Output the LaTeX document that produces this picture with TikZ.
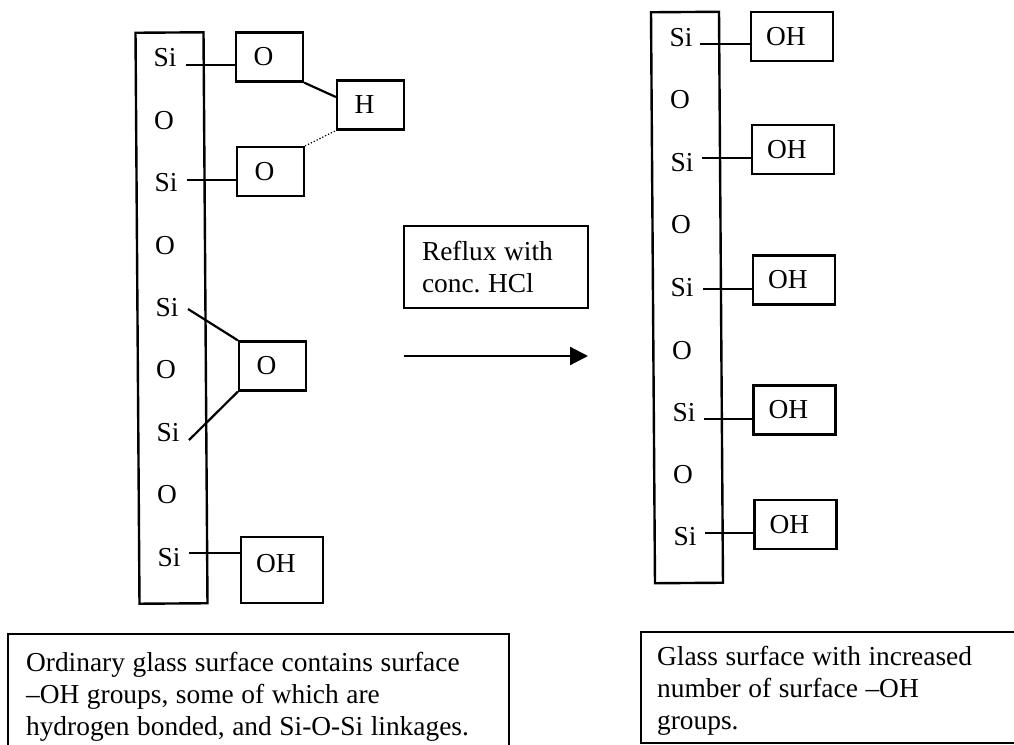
\documentclass[tikz,border=0pt]{standalone}
\usepackage{fontspec}
\setmainfont{Liberation Serif}
\usetikzlibrary{arrows.meta,positioning,calc}

\newcommand{\tightspace}{\spaceskip=3.8pt\relax}

\tikzset{
  chemtext/.style={font=\fontsize{13.7}{16}\selectfont, inner sep=0pt},
  barbox/.style={draw, line width=1.2pt, minimum width=34pt, minimum height=285.5pt, rotate=0.4},
  grpbox/.style={draw, line width=1.1pt, chemtext, minimum width=33.5pt, minimum height=24.5pt, execute at end node={\kern6pt}},
  ohbox/.style={grpbox, minimum width=41pt},
  notebox/.style={draw, line width=1.1pt, chemtext, align=left, execute at begin node={\tightspace}},
  bond/.style={line width=1.1pt}
}

\begin{document}
\begin{tikzpicture}[x=0.5pt, y=-0.5pt]
    \clip (0,0) rectangle (1014,745);

    % Left glass surface
    \node[barbox] (leftbar) at (171.5,318) {};
    \node[chemtext] (ls1) at (165,58) {Si};
    \node[chemtext] (lo1) at (164,121) {O};
    \node[chemtext] (ls2) at (166,183) {Si};
    \node[chemtext] (lo2) at (165,246) {O};
    \node[chemtext] (ls3) at (167,308) {Si};
    \node[chemtext] (lo3) at (166,370) {O};
    \node[chemtext] (ls4) at (168,433) {Si};
    \node[chemtext] (lo4) at (167,495) {O};
    \node[chemtext] (ls5) at (169,558) {Si};

    % Groups on the left surface
    \node[grpbox] (oa) at (269.5,57) {O};
    \node[grpbox] (hb) at (370.5,105) {H};
    \node[grpbox] (ob) at (270.5,171.5) {O};
    \node[grpbox] (oc) at (272.5,366) {O};
    \node[ohbox, minimum height=33pt, text depth=7pt] (ohl) at (282,570) {OH};

    % Free ends beside the Si labels
    \coordinate (la) at (186,65);
    \coordinate (lb) at (187,180);
    \coordinate (lc) at (188,309);
    \coordinate (ld) at (189,440);
    \coordinate (le) at (189,553);

    % Bonds on the left
    \draw[bond] (la) -- (la -| oa.west);
    \draw[bond] (lb) -- (lb -| ob.west);
    \draw[bond] (lc) -- (oc.north west);
    \draw[bond] (ld) -- (oc.south west);
    \draw[bond] (le) -- (le -| ohl.west);
    \draw[bond] (oa.south east) -- (hb.167);
    \draw[line width=0.6pt, densely dotted] (ob.north east) -- (hb.south west);

    % Reaction
    \node[notebox, text width=74pt, minimum width=92pt, minimum height=41pt] (reflux) at (496,267) {Reflux with\\conc.\ HCl};
    \coordinate (arrowstart) at (404,356);
    \coordinate (arrowend) at (588,356);
    \draw[bond, -{Triangle[length=9pt,width=9pt]}] (arrowstart) -- (arrowend);

    % Right glass surface
    \node[barbox] (rightbar) at (687,297.5) {};
    \node[chemtext] (rs1) at (681,38) {Si};
    \node[chemtext] (ro1) at (680,100) {O};
    \node[chemtext] (rs2) at (682,163) {Si};
    \node[chemtext] (ro2) at (681,225) {O};
    \node[chemtext] (rs3) at (682,288) {Si};
    \node[chemtext] (ro3) at (682,351) {O};
    \node[chemtext] (rs4) at (684,413) {Si};
    \node[chemtext] (ro4) at (683,475) {O};
    \node[chemtext] (rs5) at (685,537) {Si};

    % Groups on the right surface
    \node[ohbox] (oh1) at (792,36.5) {OH};
    \node[ohbox] (oh2) at (793,149.5) {OH};
    \node[ohbox] (oh3) at (794,280) {OH};
    \node[ohbox] (oh4) at (794.5,410) {OH};
    \node[ohbox] (oh5) at (795.5,524.5) {OH};

    % Free ends beside the Si labels
    \coordinate (ra) at (700,44);
    \coordinate (rb) at (702,158);
    \coordinate (rc) at (703,289);
    \coordinate (rd) at (704,419);
    \coordinate (re) at (705,533);

    % Bonds on the right
    \draw[bond] (ra) -- (ra -| oh1.west);
    \draw[bond] (rb) -- (rb -| oh2.west);
    \draw[bond] (rc) -- (rc -| oh3.west);
    \draw[bond] (rd) -- (rd -| oh4.west);
    \draw[bond] (re) -- (re -| oh5.west);

    % Captions, both run off the page
    \node[notebox, anchor=north west, text width=232.5pt, inner xsep=9pt, inner ysep=9pt] (noteleft) at (7,633) {Ordinary glass surface contains surface\\--OH groups, some of which are\\hydrogen bonded, and Si-O-Si linkages.};
    \node[notebox, anchor=north west, text width=179pt, inner xsep=8pt, inner ysep=4pt] (noteright) at (640,631) {\rule{0pt}{12.5pt}Glass surface with increased\\number of surface --OH\\groups.};
\end{tikzpicture}
\end{document}
